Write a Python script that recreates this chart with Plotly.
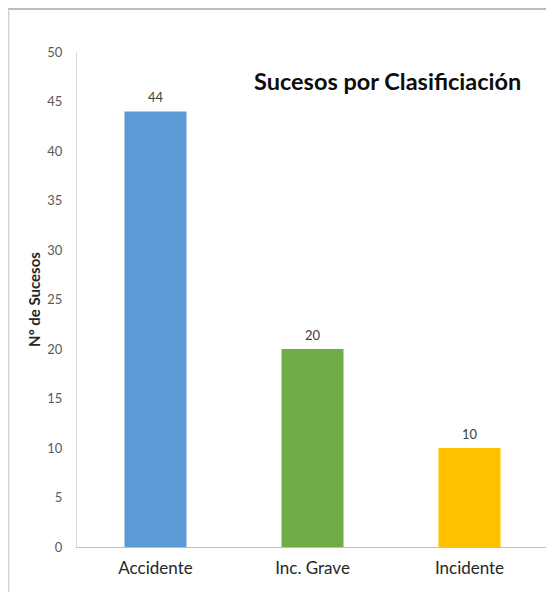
import plotly.graph_objects as go

categories = ["Accidente", "Inc. Grave", "Incidente"]
values = [44, 20, 10]
colors = ["#5B9BD5", "#70AD47", "#FFC000"]
y_ticks = [0, 5, 10, 15, 20, 25, 30, 35, 40, 45, 50]

# page body has an 8px offset; compensate in margins
L, T, PW, PH = 69, 44, 471, 495
W, H = 554, 592

fig = go.Figure()
fig.add_trace(go.Bar(
    x=categories, y=values,
    marker=dict(color=colors, line=dict(width=0)),
    width=0.395,
))

annos = [dict(
    x=c, y=v, text=str(v), xref="x", yref="y",
    showarrow=False, yanchor="middle", yshift=14,
    font=dict(family="Lato, Open Sans, sans-serif", size=13, color="#404040"),
) for c, v in zip(categories, values)]

annos.append(dict(
    text="<b>Sucesos por Clasificiación</b>",
    xref="paper", yref="paper",
    x=(244 - L) / PW, y=(539 - 73) / PH,
    xanchor="left", yanchor="middle", showarrow=False,
    font=dict(size=23.5, color="#0d0d0d", family="Lato, Open Sans, sans-serif"),
))

fig.update_layout(
    width=W, height=H,
    margin=dict(l=L, r=W - L - PW, t=T, b=H - T - PH),
    paper_bgcolor="white", plot_bgcolor="white",
    showlegend=False,
    font=dict(family="Lato, Open Sans, sans-serif"),
    xaxis=dict(
        showgrid=False, showline=True, linecolor="#bfbfbf", linewidth=1,
        ticks="", tickfont=dict(size=17, color="#262626"),
        ticklabelstandoff=6,
        range=[-0.5, 2.5],
    ),
    yaxis=dict(
        range=[0, 50], tickvals=y_ticks, showgrid=False, zeroline=False,
        showline=True, linecolor="#d9d9d9", linewidth=1, ticks="",
        tickfont=dict(size=13, color="#595959"), ticklabelstandoff=11,
        title=dict(text="<b>Nº de Sucesos</b>",
                   font=dict(size=15, color="#262626", family="Lato, Open Sans, sans-serif"),
                   standoff=3),
    ),
    annotations=annos,
    shapes=[
        dict(type="line", xref="paper", yref="paper",
             x0=(0 - L) / PW, x1=(W - L) / PW,
             y0=(T + PH - 1) / PH, y1=(T + PH - 1) / PH,
             line=dict(color="#a6a6a6", width=1.5)),
        dict(type="line", xref="paper", yref="paper",
             x0=(0.5 - L) / PW, x1=(0.5 - L) / PW,
             y0=(T + PH - 1) / PH, y1=(T + PH - H) / PH,
             line=dict(color="#d0d0d0", width=1.5)),
    ],
)

fig.write_html("out.html")
